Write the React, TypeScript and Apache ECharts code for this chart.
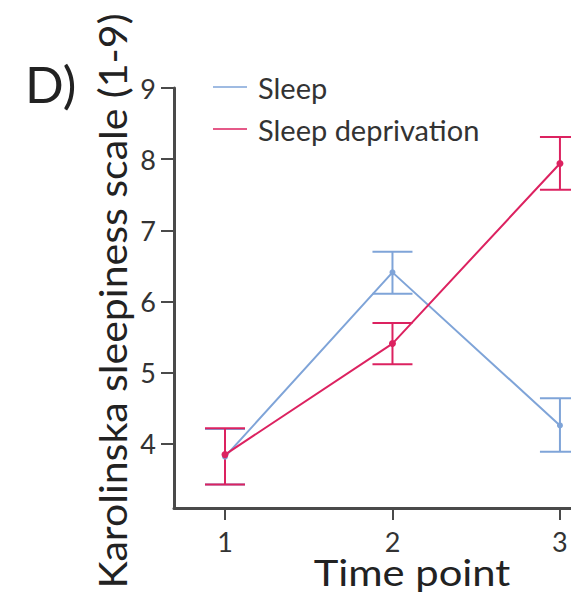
import React, { useEffect, useRef } from "react";
import * as echarts from "echarts";

const timePoints = [1, 2, 3];
const sleepMean = [3.82, 6.41, 4.26];
const sleepLow = [3.43, 6.11, 3.89];
const sleepHigh = [4.21, 6.7, 4.64];
const deprivMean = [3.85, 5.41, 7.94];
const deprivLow = [3.43, 5.12, 7.57];
const deprivHigh = [4.22, 5.7, 8.31];
const yTicks = [4, 5, 6, 7, 8, 9];
const seriesNames = ["Sleep", "Sleep deprivation"];

const BLUE = "#7fa4d8";
const RED = "#dc2260";
const FONT = "Lato";
const AXIS = "#4a4a4a";

function errorSeries(name: string, low: number[], high: number[], color: string, z: number) {
  return {
    type: "custom",
    name: name + " error",
    z,
    clip: false,
    data: timePoints.map((t, i) => [t, low[i], high[i]]),
    renderItem: (params: any, api: any) => {
      const x = api.value(0);
      const lo = api.coord([x, api.value(1)]);
      const hi = api.coord([x, api.value(2)]);
      const hw = 20;
      const style = { stroke: color, lineWidth: 2 };
      return {
        type: "group",
        children: [
          { type: "line", shape: { x1: lo[0], y1: lo[1], x2: hi[0], y2: hi[1] }, style },
          { type: "line", shape: { x1: lo[0] - hw, y1: lo[1], x2: lo[0] + hw, y2: lo[1] }, style },
          { type: "line", shape: { x1: hi[0] - hw, y1: hi[1], x2: hi[0] + hw, y2: hi[1] }, style },
        ],
      };
    },
  };
}

export default function App() {
  const ref = useRef<HTMLDivElement>(null);
  useEffect(() => {
    const chart = echarts.init(ref.current!, null, { renderer: "svg" });
    chart.setOption({
      animation: false,
      backgroundColor: "#ffffff",
      textStyle: { fontFamily: FONT },
      grid: { left: 174, right: 0, top: 88, bottom: 89 },
      legend: {
        data: seriesNames,
        orient: "vertical",
        left: 208,
        top: 67,
        itemWidth: 34,
        itemHeight: 1.5,
        itemGap: 12,
        icon: "rect",
        textStyle: { fontFamily: FONT, fontSize: 29, lineHeight: 30, color: "#333", padding: [0, 0, 0, 6] },
      },
      xAxis: {
        type: "value",
        min: 0.6955,
        max: 3.066,
        splitLine: { show: false },
        axisLine: { lineStyle: { color: AXIS, width: 3 } },
        axisTick: { show: true, customValues: timePoints, length: 12, lineStyle: { color: AXIS, width: 2 } },
        axisLabel: { customValues: timePoints, fontSize: 27, color: "#333", margin: 20, fontFamily: FONT },
      },
      yAxis: {
        type: "value",
        min: 3.1,
        max: 9,
        splitLine: { show: false },
        axisLine: { show: true, lineStyle: { color: AXIS, width: 3 } },
        axisTick: { show: true, customValues: yTicks, length: 13, lineStyle: { color: AXIS, width: 2 } },
        axisLabel: { customValues: yTicks, fontSize: 27, color: "#333", margin: 18, fontFamily: FONT },
      },
      graphic: [
        { type: "text", left: 25, top: 58, style: { text: "D)", font: `51px ${FONT}`, fill: "#222" } },
        {
          type: "text",
          x: 112,
          y: 301,
          rotation: Math.PI / 2,
          scaleX: 1.08,
          style: { text: "Karolinska sleepiness scale (1-9)", font: `38px ${FONT}`, fill: "#222", align: "center", verticalAlign: "middle" },
        },
        {
          type: "text",
          x: 412,
          y: 572,
          scaleX: 1.16,
          style: { text: "Time point", font: `36px ${FONT}`, fill: "#222", align: "center", verticalAlign: "middle" },
        },
      ],
      series: [
        errorSeries("Sleep", sleepLow, sleepHigh, BLUE, 2),
        errorSeries("Sleep deprivation", deprivLow, deprivHigh, RED, 3),
        {
          type: "line",
          name: "Sleep",
          z: 4,
          color: BLUE,
          data: timePoints.map((t, i) => [t, sleepMean[i]]),
          symbol: "circle",
          symbolSize: 6,
          lineStyle: { width: 2, color: BLUE },
          itemStyle: { color: BLUE },
        },
        {
          type: "line",
          name: "Sleep deprivation",
          z: 5,
          color: RED,
          data: timePoints.map((t, i) => [t, deprivMean[i]]),
          symbol: "circle",
          symbolSize: 7,
          lineStyle: { width: 2, color: RED },
          itemStyle: { color: RED },
        },
      ],
    });
    return () => chart.dispose();
  }, []);
  return <div ref={ref} style={{ position: "fixed", left: 0, top: 0, width: 571, height: 597 }} />;
}
